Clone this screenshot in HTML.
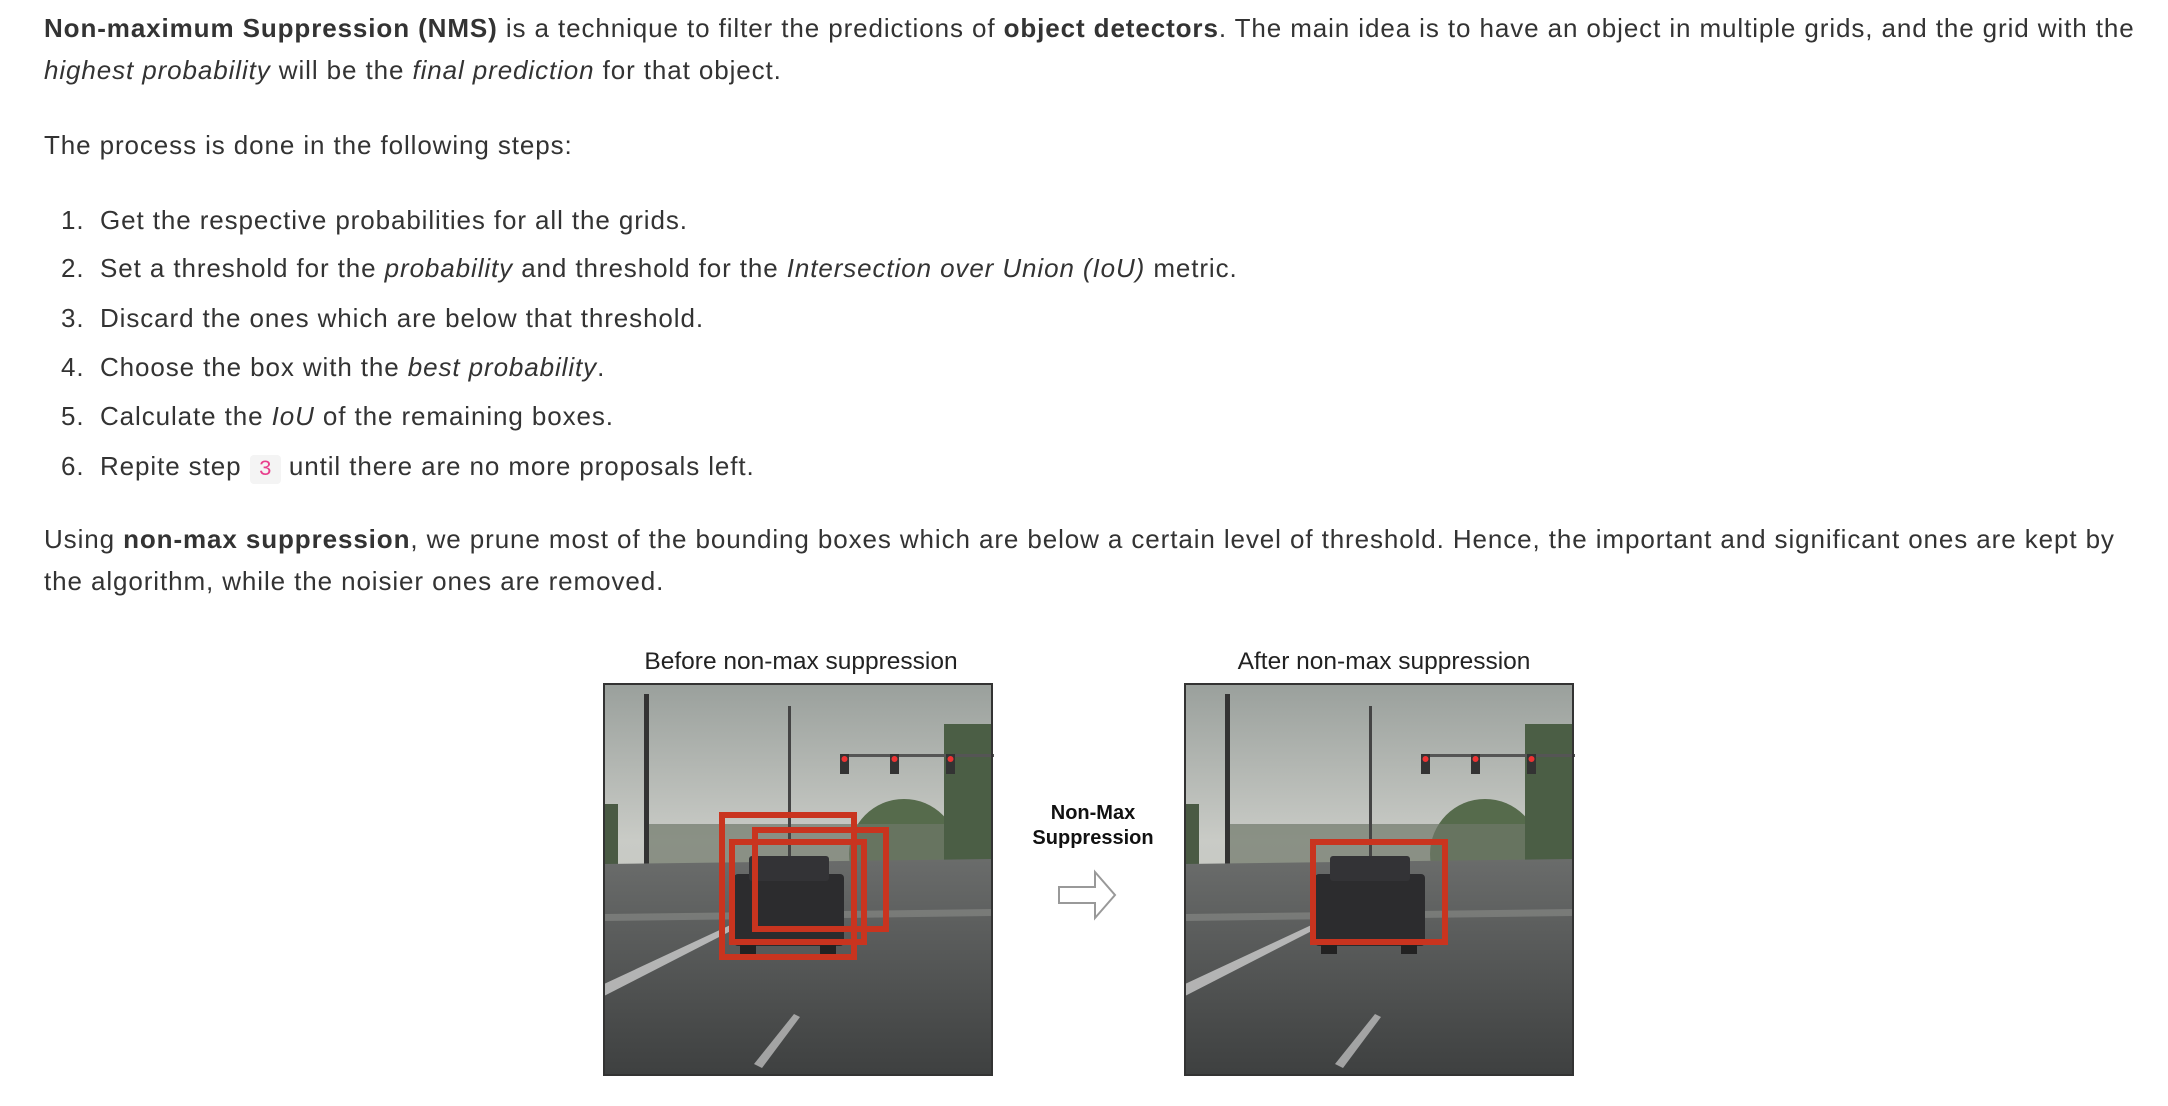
<!DOCTYPE html>
<html><head><meta charset="utf-8"><style>
body{margin:0;background:#fff;width:2168px;height:1106px;overflow:hidden;position:relative;font-family:"Liberation Sans",Arial,sans-serif;color:#333;}
.t{position:absolute;left:44px;font-size:26px;letter-spacing:0.9px;white-space:nowrap;line-height:30px;}
.li{position:absolute;font-size:26px;letter-spacing:0.9px;white-space:nowrap;line-height:30px;}
.n{left:61px}.x{left:100px}
code{font-family:"Liberation Mono",monospace;color:#e83e8c;background:#f4f4f4;border-radius:4px;padding:2px 9px;font-size:22px;letter-spacing:0;}
.cap{position:absolute;font-size:24.5px;color:#222;white-space:nowrap;transform:translateX(-50%);}
</style></head><body>
<div class="t" style="top:13px"><b>Non-maximum Suppression (NMS)</b> is a technique to filter the predictions of <b>object detectors</b>. The main idea is to have an object in multiple grids, and the grid with the</div>
<div class="t" style="top:55px"><i>highest probability</i> will be the <i>final prediction</i> for that object.</div>
<div class="t" style="top:130px">The process is done in the following steps:</div>
<div>
<div class="li n" style="top:205px">1.</div><div class="li x" style="top:205px">Get the respective probabilities for all the grids.</div>
<div class="li n" style="top:253px">2.</div><div class="li x" style="top:253px">Set a threshold for the <i>probability</i> and threshold for the <i>Intersection over Union (IoU)</i> metric.</div>
<div class="li n" style="top:303px">3.</div><div class="li x" style="top:303px">Discard the ones which are below that threshold.</div>
<div class="li n" style="top:352px">4.</div><div class="li x" style="top:352px">Choose the box with the <i>best probability</i>.</div>
<div class="li n" style="top:401px">5.</div><div class="li x" style="top:401px">Calculate the <i>IoU</i> of the remaining boxes.</div>
<div class="li n" style="top:451px">6.</div><div class="li x" style="top:451px">Repite step <code>3</code> until there are no more proposals left.</div>
</div>
<div class="t" style="top:524px">Using <b>non-max suppression</b>, we prune most of the bounding boxes which are below a certain level of threshold. Hence, the important and significant ones are kept by</div>
<div class="t" style="top:566px">the algorithm, while the noisier ones are removed.</div>

<div class="cap" style="left:801px;top:648px">Before non-max suppression</div>
<div class="cap" style="left:1384px;top:648px">After non-max suppression</div>
<div style="position:absolute;left:1028px;top:801px;width:130px;text-align:center;font-weight:bold;font-size:20px;line-height:25px;color:#111">Non-Max<br>Suppression</div>
<svg style="position:absolute;left:1055px;top:868px" width="66" height="54"><polygon points="4,19 40,19 40,4 60,27 40,50 40,35 4,35" fill="#fff" stroke="#999" stroke-width="2"/></svg>

<svg id="scene" width="2168" height="1106" style="position:absolute;left:0;top:0;pointer-events:none"></svg>
<script>
const boxesBefore=[[719,812,857,960],[752,827,889,932],[729,839,867,945]];
const boxesAfter=[[729,839,867,945]];
const NS='http://www.w3.org/2000/svg';
const svg=document.getElementById('scene');
function el(t,a,p){const e=document.createElementNS(NS,t);for(const k in a)e.setAttribute(k,a[k]);(p||svg).appendChild(e);return e;}
el('defs',{}).innerHTML='<linearGradient id="sky" x1="0" y1="0" x2="0" y2="1"><stop offset="0" stop-color="#9aa09c"/><stop offset="0.4" stop-color="#c9cbc6"/><stop offset="1" stop-color="#b8bab4"/></linearGradient><linearGradient id="road" x1="0" y1="0" x2="0" y2="1"><stop offset="0" stop-color="#6a6c6b"/><stop offset="1" stop-color="#3e4040"/></linearGradient>';
function photo(x0,name,boxes){
  const g=el('g',{transform:`translate(${x0},684)`});
  
  
  el('rect',{x:0,y:0,width:388,height:391,fill:'url(#sky)'},g);
  el('rect',{x:0,y:120,width:14,height:120,fill:'#4a5a44'},g);
  el('ellipse',{cx:300,cy:170,rx:55,ry:55,fill:'#566b4c'},g);
  el('rect',{x:340,y:40,width:48,height:220,fill:'#4b5e45'},g);
  el('rect',{x:40,y:140,width:300,height:40,fill:'#6f7869',opacity:0.7},g);
  el('rect',{x:40,y:10,width:5,height:190,fill:'#333'},g);
  el('rect',{x:184,y:22,width:3,height:180,fill:'#444'},g);
  el('rect',{x:240,y:70,width:150,height:3,fill:'#555'},g);
  [[236,70],[286,70],[342,70]].forEach(p=>{el('rect',{x:p[0],y:p[1],width:9,height:20,fill:'#333'},g);el('circle',{cx:p[0]+4.5,cy:p[1]+5,r:3,fill:'#e33'},g);});
  el('polygon',{points:'0,180 388,175 388,391 0,391',fill:'url(#road)'},g);
  el('polygon',{points:'0,230 388,225 388,232 0,237',fill:'#8a8c88',opacity:0.6},g);
  el('polygon',{points:'0,300 150,230 156,232 0,312',fill:'#ddd',opacity:0.7},g);
  el('polygon',{points:'150,380 190,330 196,333 158,384',fill:'#ccc',opacity:0.7},g);
  el('rect',{x:130,y:190,width:110,height:72,fill:'#2c2c2e',rx:4},g);
  el('rect',{x:145,y:172,width:80,height:25,fill:'#333336',rx:3},g);
  el('rect',{x:136,y:258,width:16,height:12,fill:'#222'},g);
  el('rect',{x:216,y:258,width:16,height:12,fill:'#222'},g);
  el('rect',{x:0,y:0,width:388,height:391,fill:'none',stroke:'#333',"stroke-width":2},g);
  boxes.forEach(b=>{
    const r=el('rect',{x:b[0]-604+3,y:b[1]-684+3,width:b[2]-b[0]-6,height:b[3]-b[1]-6,fill:'none',stroke:'#c9341f',"stroke-width":6},g);
    
    
  });
}
photo(604,'before-image',boxesBefore);
photo(1185,'after-image',boxesAfter);
</script>
</body></html>
